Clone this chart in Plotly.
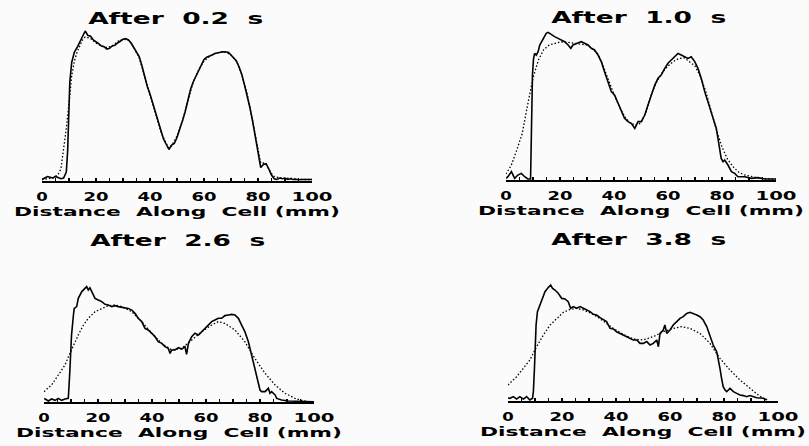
import plotly.graph_objects as go

# ---------------- data (distance along cell in mm, relative concentration) ----------------
titles = ["After 0.2 s", "After 1.0 s", "After 2.6 s", "After 3.8 s"]
x_label = "Distance Along Cell (mm)"
tick_vals = [0, 20, 40, 60, 80, 100]

# After 0.2 s
x_meas_1 = [0, 1, 2, 3, 4, 5, 6, 7, 8, 9, 9.5, 10, 10.3, 11, 12, 13, 14, 15, 16, 17, 18, 19, 20,
            21, 22, 23, 24, 25, 26, 27, 28, 29, 30, 31, 32, 33, 34, 35, 36, 37, 38, 39, 40,
            41, 42, 43, 44, 45, 46, 47, 48, 49, 50, 51, 52, 53, 54, 55, 56, 57, 58, 59, 60,
            61, 62, 63, 64, 65, 66, 67, 68, 69, 70, 71, 72, 73, 74, 75, 76, 77, 78, 79, 80,
            81, 82, 83, 84, 85, 86, 87, 88, 89, 90, 91, 92, 93, 94, 95, 96, 97, 98, 99, 100]
y_meas_1 = [0.01, 0.02, 0.03, 0.025, 0.02, 0.03, 0.02, 0.015, 0.02, 0.06, 0.2, 0.45, 0.66, 0.79,
            0.86, 0.89, 0.93, 0.96, 1.0, 0.97, 0.965, 0.94, 0.93, 0.915, 0.9, 0.895, 0.88, 0.885,
            0.9, 0.905, 0.92, 0.935, 0.945, 0.95, 0.94, 0.92, 0.89, 0.865, 0.83, 0.77, 0.69, 0.63,
            0.58, 0.52, 0.46, 0.39, 0.33, 0.28, 0.245, 0.21, 0.24, 0.25, 0.29, 0.34, 0.4, 0.46,
            0.54, 0.61, 0.66, 0.7, 0.74, 0.78, 0.81, 0.825, 0.83, 0.84, 0.85, 0.855, 0.86, 0.862,
            0.86, 0.858, 0.84, 0.82, 0.8, 0.76, 0.71, 0.64, 0.57, 0.49, 0.4, 0.29, 0.18, 0.09,
            0.11, 0.115, 0.08, 0.04, 0.015, 0.01, 0.02, 0.015, 0.02, 0.01, 0.015, 0.01, 0.012,
            0.008, 0.01, 0.008, 0.01, 0.01, 0.01]
x_model_1 = [0, 2, 4, 5, 6, 7, 8, 9, 10, 11, 12, 13, 14, 15, 16, 18, 20, 22, 24, 26, 28, 30, 32,
             34, 36, 38, 40, 42, 44, 46, 47, 48, 50, 52, 54, 56, 58, 60, 62, 64, 66, 68, 70, 72,
             74, 76, 78, 80, 81, 82, 83, 84, 85, 86, 88, 90, 92, 95, 100]
y_model_1 = [0.01, 0.015, 0.02, 0.03, 0.045, 0.08, 0.2, 0.35, 0.52, 0.7, 0.8, 0.86, 0.9, 0.94,
             0.96, 0.95, 0.92, 0.9, 0.89, 0.9, 0.93, 0.945, 0.94, 0.89, 0.82, 0.7, 0.58, 0.46,
             0.33, 0.25, 0.22, 0.235, 0.3, 0.4, 0.54, 0.66, 0.74, 0.8, 0.83, 0.85, 0.86, 0.86,
             0.84, 0.8, 0.71, 0.58, 0.4, 0.2, 0.12, 0.12, 0.11, 0.08, 0.05, 0.03, 0.02, 0.015,
             0.02, 0.01, 0.01]

# After 1.0 s
x_meas_2 = [0, 0.7, 2.0, 3.2, 4.4, 5.7, 6.9, 8.1, 9.1, 9.4, 9.8, 10.2, 10.6, 11.2, 11.9, 12.5,
            13.1, 13.7, 14.9, 15.6, 16.8, 18.0, 19.3, 20.5, 21.7, 23.0, 24.0, 24.8, 26.0, 27.3,
            27.9, 29.1, 30.4, 31.6, 32.8, 34.1, 35.3, 36.5, 37.8, 39.0, 40.2, 41.5, 42.7, 43.9,
            45.2, 46.4, 47.7, 48.9, 50.1, 51.4, 52.6, 53.8, 55.1, 56.3, 57.5, 58.8, 60.0, 61.2,
            62.5, 63.7, 64.9, 66.2, 67.4, 68.6, 69.9, 71.1, 72.3, 73.6, 74.8, 76.0, 77.3, 77.9,
            78.5, 79.1, 79.7, 80.4, 81.0, 82.2, 83.5, 84.7, 85.9, 88.4, 90.9, 93.3, 95.8, 100]
y_meas_2 = [0.01, 0.022, 0.056, 0.011, 0.033, 0.044, 0.022, 0.007, 0.007, 0.367, 0.70, 0.81,
            0.844, 0.833, 0.856, 0.9, 0.922, 0.944, 0.978, 0.984, 0.967, 0.956, 0.944, 0.933,
            0.922, 0.9, 0.878, 0.9, 0.911, 0.918, 0.922, 0.911, 0.9, 0.878, 0.867, 0.833, 0.789,
            0.722, 0.656, 0.589, 0.567, 0.511, 0.456, 0.411, 0.389, 0.378, 0.344, 0.389, 0.389,
            0.433, 0.5, 0.567, 0.633, 0.678, 0.7, 0.744, 0.778, 0.8, 0.822, 0.844, 0.833, 0.822,
            0.811, 0.822, 0.789, 0.744, 0.678, 0.589, 0.522, 0.456, 0.389, 0.344, 0.278, 0.211,
            0.144, 0.122, 0.133, 0.1, 0.056, 0.044, 0.022, 0.022, 0.011, 0.016, 0.007, 0.007]
x_model_2 = [0, 2, 4, 6, 8, 10, 12, 14, 16, 18, 20, 22, 24, 26, 28, 30, 32, 34, 36, 38, 40, 42,
             44, 46, 48, 50, 52, 54, 56, 58, 60, 62, 64, 66, 68, 70, 72, 74, 76, 78, 80, 82, 84,
             86, 88, 90, 93, 96, 100]
y_model_2 = [0.04, 0.1, 0.2, 0.31, 0.5, 0.68, 0.8, 0.87, 0.9, 0.91, 0.92, 0.92, 0.915, 0.915,
             0.91, 0.9, 0.875, 0.84, 0.76, 0.66, 0.57, 0.49, 0.42, 0.38, 0.365, 0.38, 0.46, 0.58,
             0.66, 0.72, 0.76, 0.79, 0.81, 0.815, 0.79, 0.76, 0.69, 0.59, 0.46, 0.33, 0.22, 0.14,
             0.09, 0.055, 0.035, 0.025, 0.015, 0.01, 0.005]

# After 2.6 s
x_meas_3 = [0.1, 1.6, 2.8, 4.1, 5.3, 6.5, 7.8, 9.0, 9.5, 9.75, 10.2, 10.9, 11.2, 12.1, 12.7,
            14.0, 15.2, 15.8, 16.4, 17.0, 17.7, 18.3, 18.9, 20.1, 21.4, 22.6, 23.8, 25.1, 26.3,
            27.5, 28.8, 30.0, 31.2, 32.5, 33.7, 34.9, 36.2, 37.4, 38.6, 39.9, 41.1, 42.3, 43.6,
            44.8, 46.0, 46.7, 47.3, 48.5, 49.8, 51.0, 52.2, 52.8, 53.5, 54.7, 55.9, 57.2, 58.4,
            59.6, 60.9, 62.1, 63.3, 64.6, 65.8, 67.0, 68.3, 69.5, 70.7, 72.0, 73.2, 74.4, 75.7,
            76.9, 77.5, 78.1, 78.8, 79.4, 80.0, 80.6, 81.9, 83.1, 83.7, 84.3, 85.6, 86.2, 88.0,
            90.5, 93.0, 100]
y_meas_3 = [0.024, 0.007, 0.02, 0.011, 0.024, 0.011, 0.02, 0.024, 0.18, 0.313, 0.447, 0.58,
            0.624, 0.636, 0.691, 0.736, 0.758, 0.769, 0.747, 0.762, 0.736, 0.713, 0.691, 0.68,
            0.669, 0.651, 0.647, 0.636, 0.642, 0.636, 0.631, 0.624, 0.624, 0.613, 0.591, 0.558,
            0.536, 0.491, 0.48, 0.458, 0.436, 0.402, 0.391, 0.369, 0.358, 0.324, 0.347, 0.347,
            0.362, 0.353, 0.369, 0.318, 0.391, 0.436, 0.458, 0.447, 0.469, 0.491, 0.513, 0.536,
            0.547, 0.558, 0.558, 0.576, 0.58, 0.584, 0.58, 0.558, 0.513, 0.469, 0.402, 0.313,
            0.269, 0.224, 0.158, 0.113, 0.08, 0.069, 0.069, 0.091, 0.058, 0.069, 0.047, 0.024,
            0.013, 0.007, 0.007, 0.002]
x_model_3 = [0, 2.8, 5.3, 7.8, 9.0, 10.9, 12.7, 14.6, 16.4, 18.9, 21.4, 23.8, 26.3, 28.8, 32.5,
             36.2, 39.9, 43.6, 47.3, 51.0, 54.7, 58.4, 62.1, 64.6, 67.0, 70.7, 74.4, 78.1, 81.9,
             85.6, 89.3, 93.0, 95.4, 97.5]
y_model_3 = [0.069, 0.113, 0.18, 0.247, 0.30, 0.38, 0.447, 0.513, 0.558, 0.602, 0.624, 0.642,
             0.647, 0.636, 0.602, 0.536, 0.458, 0.391, 0.347, 0.358, 0.413, 0.469, 0.513, 0.536,
             0.524, 0.48, 0.402, 0.291, 0.191, 0.113, 0.058, 0.024, 0.011, 0.004]

# After 3.8 s
x_meas_4 = [0, 0.7, 2.0, 3.2, 4.4, 5.7, 6.9, 8.1, 9.1, 9.4, 9.8, 10.1, 10.4, 10.9, 11.6, 12.1,
            12.8, 13.7, 14.9, 15.8, 16.5, 17.4, 18.6, 19.9, 21.1, 22.3, 23.2, 24.2, 25.4, 26.7,
            27.9, 29.1, 30.4, 31.6, 32.8, 34.1, 35.3, 36.5, 37.8, 39.0, 40.2, 41.5, 42.7, 44.0,
            45.2, 46.4, 47.7, 48.9, 50.1, 51.4, 52.6, 53.8, 55.1, 55.7, 56.3, 57.5, 58.1, 58.8,
            60.0, 61.2, 62.5, 63.7, 64.9, 66.2, 67.4, 68.6, 69.9, 71.1, 72.3, 73.6, 74.8, 76.0,
            77.3, 77.9, 78.5, 79.1, 79.7, 80.4, 81.0, 82.2, 83.5, 84.7, 85.9, 87.2, 88.4, 89.6,
            92.1, 94.6, 95.8]
y_meas_4 = [0.02, 0.018, 0.029, 0.013, 0.029, 0.013, 0.029, 0.007, 0.018, 0.062, 0.218, 0.351,
            0.507, 0.596, 0.629, 0.662, 0.696, 0.729, 0.756, 0.773, 0.751, 0.74, 0.718, 0.684,
            0.68, 0.662, 0.618, 0.629, 0.618, 0.629, 0.618, 0.607, 0.596, 0.578, 0.573, 0.556,
            0.54, 0.529, 0.484, 0.48, 0.462, 0.451, 0.44, 0.429, 0.418, 0.407, 0.407, 0.384,
            0.384, 0.396, 0.373, 0.384, 0.407, 0.362, 0.451, 0.473, 0.507, 0.451, 0.473, 0.507,
            0.529, 0.551, 0.562, 0.584, 0.591, 0.584, 0.573, 0.562, 0.54, 0.496, 0.44, 0.373,
            0.329, 0.284, 0.218, 0.151, 0.096, 0.073, 0.062, 0.084, 0.062, 0.051, 0.04, 0.036,
            0.029, 0.036, 0.022, 0.018, 0.007]
x_model_4 = [0, 3.2, 5.7, 8.1, 10.6, 13.1, 15.6, 18.0, 20.5, 23.0, 25.4, 27.9, 31.6, 35.3, 39.0,
             42.7, 46.4, 50.1, 53.8, 57.5, 61.2, 64.3, 67.4, 71.1, 74.8, 78.5, 82.2, 85.9, 89.6,
             92.7, 94.6, 96.0]
y_model_4 = [0.107, 0.162, 0.218, 0.273, 0.362, 0.44, 0.507, 0.551, 0.591, 0.611, 0.618, 0.607,
             0.578, 0.533, 0.484, 0.444, 0.413, 0.407, 0.429, 0.462, 0.484, 0.496, 0.484, 0.451,
             0.384, 0.284, 0.207, 0.14, 0.084, 0.04, 0.018, 0.01]

measured = [(x_meas_1, y_meas_1), (x_meas_2, y_meas_2), (x_meas_3, y_meas_3), (x_meas_4, y_meas_4)]
model = [(x_model_1, y_model_1), (x_model_2, y_model_2), (x_model_3, y_model_3), (x_model_4, y_model_4)]

# ---------------- layout geometry (pixels in the 809x446 page) ----------------
W, H = 809, 446
Y_MAX = 1.05
PX_PER_UNIT = 150
# (x of 0 mm, x of 100 mm, baseline y, title centre x, title anchor y)
panels = [
    (42, 312, 181, 175, 19.5),
    (506, 776, 180, 638, 18),
    (44, 314, 402, 177, 241),
    (508, 778, 401, 638, 239.5),
]

fig = go.Figure()
FONT = "DejaVu Sans"

for i, ((xm, ym), (xd, yd), (x0, x1, yb, tx, ty)) in enumerate(zip(measured, model, panels)):
    n = "" if i == 0 else str(i + 1)
    xa, ya = "x" + n, "y" + n
    fig.add_trace(go.Scatter(x=xd, y=yd, mode="lines", xaxis=xa, yaxis=ya,
                             line=dict(color="black", width=1.3, dash="1.5px,2px"),
                             showlegend=False, hoverinfo="skip"))
    fig.add_trace(go.Scatter(x=xm, y=ym, mode="lines", xaxis=xa, yaxis=ya,
                             line=dict(color="black", width=1.6),
                             showlegend=False, hoverinfo="skip"))
    ytop = yb - Y_MAX * PX_PER_UNIT
    fig.layout["xaxis" + n] = dict(
        domain=[x0 / W, x1 / W], anchor=ya, range=[0, 100], automargin=False,
        showline=True, linecolor="black", linewidth=1.5,
        showgrid=False, zeroline=False,
        tickmode="array", tickvals=tick_vals, ticks="inside", ticklen=3,
        tickwidth=1.2, tickcolor="black",
        minor=dict(dtick=5, tick0=0, ticks="inside", ticklen=3, tickwidth=1.2,
                   tickcolor="black", showgrid=False),
        tickfont=dict(family=FONT, size=12, color="black", weight="bold"),
        ticklabelstandoff=4,
        title=dict(text=x_label.replace("Distance ", "Distance\u00a0 ").replace("Along ", "Along\u00a0 "),
                   font=dict(family=FONT, size=13, color="black", weight="bold"), standoff=1),
        fixedrange=True,
    )
    fig.layout["yaxis" + n] = dict(
        domain=[(H - yb) / H, (H - ytop) / H], anchor=xa, range=[0, Y_MAX],
        visible=False, automargin=False, fixedrange=True,
    )
    fig.add_annotation(x=tx / W, y=1 - ty / H, xref="paper", yref="paper",
                       text=titles[i].replace(" ", "\u00a0\u00a0"), showarrow=False,
                       xanchor="center", yanchor="middle",
                       font=dict(family=FONT, size=15, color="black", weight="bold"))

fig.update_layout(
    width=W, height=H, margin=dict(l=0, r=0, t=0, b=0, autoexpand=False),
    paper_bgcolor="#fbfbfb", plot_bgcolor="#fbfbfb",
    showlegend=False,
)

post = """
document.body.style.margin = '0';
document.body.style.overflow = 'hidden';
var gd = document.getElementById('{plot_id}');
function fit(t, L) { t.setAttribute('textLength', L); t.setAttribute('lengthAdjust', 'spacingAndGlyphs'); }
gd.querySelectorAll('text').forEach(function (t) {
  var s = t.textContent;
  if (s.indexOf('After') === 0) fit(t, 175);
  else if (s.indexOf('Distance') === 0) fit(t, 326);
});
['xtick', 'x2tick', 'x3tick', 'x4tick'].forEach(function (c) {
  gd.querySelectorAll('g.' + c + ' text').forEach(function (t) {
    var k = t.textContent.length;
    fit(t, k === 1 ? 11.5 : (k === 2 ? 25 : 41));
  });
});
"""

fig.write_html("out.html", post_script=post, config={"staticPlot": True})
